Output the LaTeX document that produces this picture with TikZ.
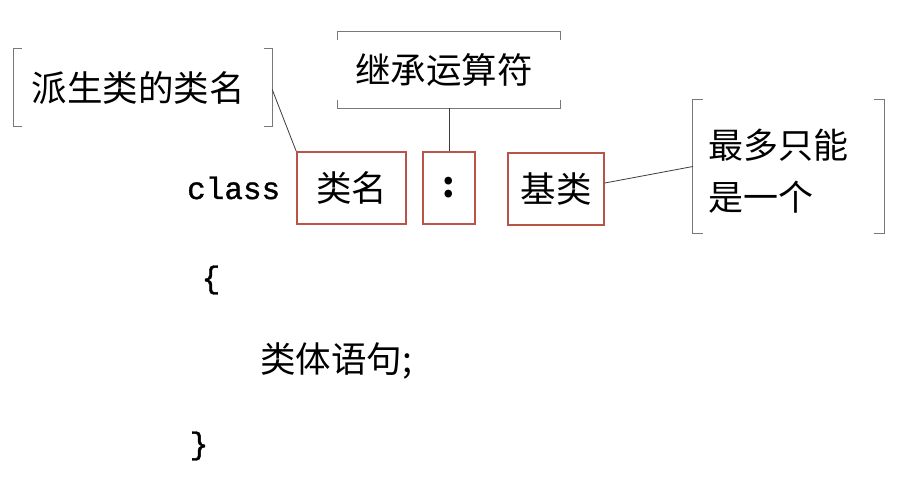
\documentclass[tikz,border=0pt]{standalone}
\usepackage{fontspec}
\newfontfamily\cjk{Noto Sans CJK SC}
\newfontfamily\codefont[FakeBold=1.2]{Liberation Mono}
\definecolor{boxred}{RGB}{184,84,72}
\definecolor{brkgray}{RGB}{120,120,120}
\definecolor{conngray}{RGB}{60,60,60}
\begin{document}
\begin{tikzpicture}[x=1pt,y=-1pt,
  redbox/.style={draw=boxred, line width=1.6pt, inner sep=0pt},
  frame/.style={inner sep=0pt},
  brk/.style={draw=brkgray, line width=1.1pt},
  lbl/.style={font=\cjk\fontsize{35.5}{42}\selectfont, inner sep=0pt},
  code/.style={font=\codefont\fontsize{31}{36}\selectfont, inner sep=0pt},
  conn/.style={draw=conngray, line width=0.8pt}]
\useasboundingbox[fill=white] (0,0) rectangle (899,496);

% boxes
\node[redbox, minimum width=109pt, minimum height=72pt, lbl] (name) at (351.5,188) {类名};
\node[redbox, minimum width=52pt, minimum height=72pt, lbl, font=\cjk\bfseries\fontsize{35.5}{42}\selectfont] (colon) at (449,188) {:};
\node[redbox, minimum width=96pt, minimum height=72pt, lbl] (base) at (556,189) {基类};

% left callout
\node[frame, minimum width=258pt, minimum height=77pt] (lframe) at (143,87.5) {};
\node[lbl] (ltext) at (138,88) {派生类的类名};
\draw[brk] ([xshift=8pt]lframe.north west) -- (lframe.north west) -- (lframe.south west) -- ([xshift=8pt]lframe.south west);
\draw[brk] ([xshift=-8pt]lframe.north east) -- (lframe.north east) -- (lframe.south east) -- ([xshift=-8pt]lframe.south east);

% top callout
\node[frame, minimum width=222pt, minimum height=76pt] (tframe) at (449,70) {};
\node[lbl] (ttext) at (444,70) {继承运算符};
\draw[brk] ([yshift=-8pt]tframe.north west) -- (tframe.north west) -- (tframe.north east) -- ([yshift=-8pt]tframe.north east);
\draw[brk] ([yshift=8pt]tframe.south west) -- (tframe.south west) -- (tframe.south east) -- ([yshift=8pt]tframe.south east);

% right callout
\node[frame, minimum width=191pt, minimum height=133pt] (rframe) at (788.5,166.5) {};
\node[lbl, font=\cjk\fontsize{35}{52}\selectfont, align=left, anchor=west] (rtext) at (708,171) {最多只能\\是一个};
\draw[brk] ([xshift=10pt]rframe.north west) -- (rframe.north west) -- (rframe.south west) -- ([xshift=10pt]rframe.south west);
\draw[brk] ([xshift=-10pt]rframe.north east) -- (rframe.north east) -- (rframe.south east) -- ([xshift=-10pt]rframe.south east);

% connectors
\draw[conn] ([yshift=-2pt]lframe.east) -- (name.north west);
\draw[conn] (tframe.south) -- (colon.north);
\draw[conn] ([yshift=6pt]base.east) -- (rframe.west);

% code
\node[code, anchor=base west] (kw) at (187,199) {class};
\node[code] (lbrace) at (211,280) {\{};
\node[lbl, anchor=west] (body) at (260,361) {类体语句;};
\node[code] (rbrace) at (199,446) {\}};
\end{tikzpicture}
\end{document}
